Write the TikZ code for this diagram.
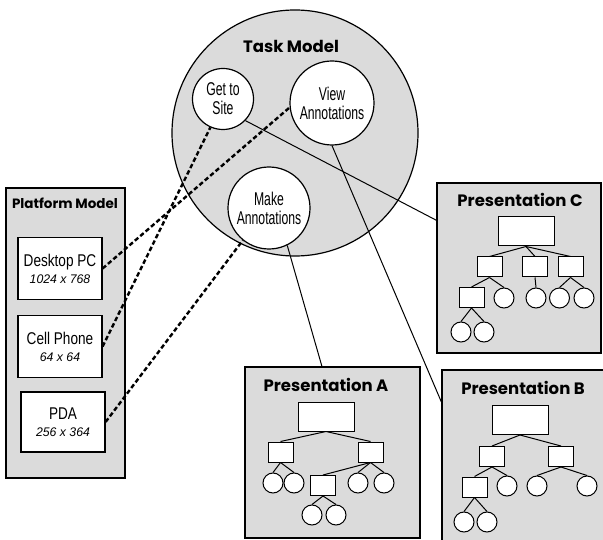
\documentclass[tikz,border=0pt]{standalone}
\usepackage{fontspec}
\usepackage{tikz}
\newfontfamily\titlefont{Poppins}
\newfontfamily\labelfont{Liberation Sans}[FakeStretch=0.66]
\newfontfamily\devfont{Liberation Sans}[FakeStretch=0.8]
\newfontfamily\numfont{Liberation Sans}[FakeStretch=0.98]
\definecolor{panelgray}{gray}{0.86}

\begin{document}
\begin{tikzpicture}[x=1pt, y=-1pt,
		panel/.style={draw, fill=panelgray, line width=1.3pt, inner sep=0},
		task/.style={draw, circle, fill=white, line width=1.2pt, inner sep=0, align=center,
			font=\labelfont\fontsize{18.5}{19}\selectfont},
		device/.style={draw, fill=white, line width=1.2pt, inner sep=0, align=center,
			minimum width=84, minimum height=62, font=\devfont\fontsize{17}{17}\selectfont},
		heading/.style={font=\titlefont\bfseries\fontsize{16.5}{16}\selectfont},
		tbox/.style={draw, fill=white, line width=1pt, inner sep=0, minimum width=25, minimum height=20},
		troot/.style={tbox, minimum width=56, minimum height=29},
		tleaf/.style={draw, circle, fill=white, line width=1pt, inner sep=0, minimum size=20},
		link/.style={line width=1pt},
		maps/.style={line width=2.4pt, dash pattern=on 4.5pt off 2.6pt}]
		\useasboundingbox (0, 0) rectangle (603, 540);

		% task model
		\node[draw, circle, fill=panelgray, line width=1.2pt, minimum size=246, inner sep=0] (task) at (295, 133) {};
		\node[heading] (tasktitle) at (291, 46) {Task Model};
		\node[task, minimum size=61] (gets) at (223, 99) {Get to\\Site};
		\node[task, minimum size=84] (view) at (332, 103) {View\\Annotations};
		\node[task, minimum size=82] (make) at (269, 208) {Make\\Annotations};

		% platform model
		\node[panel, minimum width=119, minimum height=290] (platform) at (65.5, 333) {};
		\node[heading, font=\titlefont\bfseries\fontsize{13.5}{13}\selectfont] (plattitle) at (65, 203) {Platform Model};
		\node[device] (desk) at (60, 268.5) {Desktop PC\\{\numfont\itshape\fontsize{12.5}{15}\selectfont 1024 x 768}};
		\node[device] (cell) at (60, 346.5) {Cell Phone\\{\numfont\itshape\fontsize{12.5}{15}\selectfont 64 x 64}};
		\node[device, minimum height=60] (pda) at (63, 422) {PDA\\{\numfont\itshape\fontsize{12.5}{15}\selectfont 256 x 364}};

		% presentations
		\node[panel, minimum width=164, minimum height=170] (presC) at (519, 268) {};
		\node[panel, minimum width=175, minimum height=171] (presA) at (332.5, 452.5) {};
		\node[panel, minimum width=168, minimum height=178] (presB) at (526, 459) {};
		\node[heading] (titleC) at (520, 200) {Presentation C};
		\node[heading] (titleA) at (326, 385) {Presentation A};
		\node[heading] (titleB) at (523, 388) {Presentation B};

		% trees
		\node[troot] (cr) at (526, 231.5) {};
		\node[troot] (ar) at (326, 416.5) {};
		\node[troot] (br) at (520, 420) {};
		\foreach \n/\p in {c1/{(489.5, 267)}, c2/{(535, 267)}, c3/{(570.5, 267)}, c4/{(471.5, 297.5)},
				a1/{(280.5, 452)}, a2/{(370.5, 452)}, a5/{(323, 485.5)},
				b1/{(492, 456.5)}, b2/{(561, 456.5)}, b3/{(474.5, 487)}}
			\node[tbox] (\n) at \p {};
		\foreach \n/\p in {c5/{(504, 298)}, c6/{(536, 298)}, c7/{(559.5, 298)}, c8/{(584, 298)}, c9/{(461, 332)}, c10/{(484, 332)},
				a3/{(273, 483)}, a4/{(294, 483)}, a6/{(358, 483)}, a7/{(384, 483)}, a8/{(312, 515)}, a9/{(336, 515)},
				b4/{(507, 486)}, b5/{(537, 486)}, b6/{(587, 486)}, b7/{(464, 522)}, b8/{(487, 522)}}
			\node[tleaf] (\n) at \p {};
		\foreach \a/\b in {cr/c1, cr/c2, cr/c3, c1/c4, c1/c5, c2/c6, c3/c7, c3/c8, c4/c9, c4/c10,
				ar/a1, ar/a2, a1/a3, a1/a4, a2/a5, a2/a6, a2/a7, a5/a8, a5/a9,
				br/b1, br/b2, b1/b3, b1/b4, b2/b5, b2/b6, b3/b7, b3/b8}
			\draw[link] (\a.south) -- (\b.north);

		% task to presentation
		\draw[link] (gets.316) -- (presC.150);
		\draw[link] (view.south) -- (presB.146);
		\draw[link] (make.296) -- (presA.97);

		% platform to task
		\draw[maps] (desk.east) -- (view.186);
		\draw[maps] (cell.east) -- (gets.246);
		\draw[maps] (pda.east) -- (make.231);
	\end{tikzpicture}
\end{document}
